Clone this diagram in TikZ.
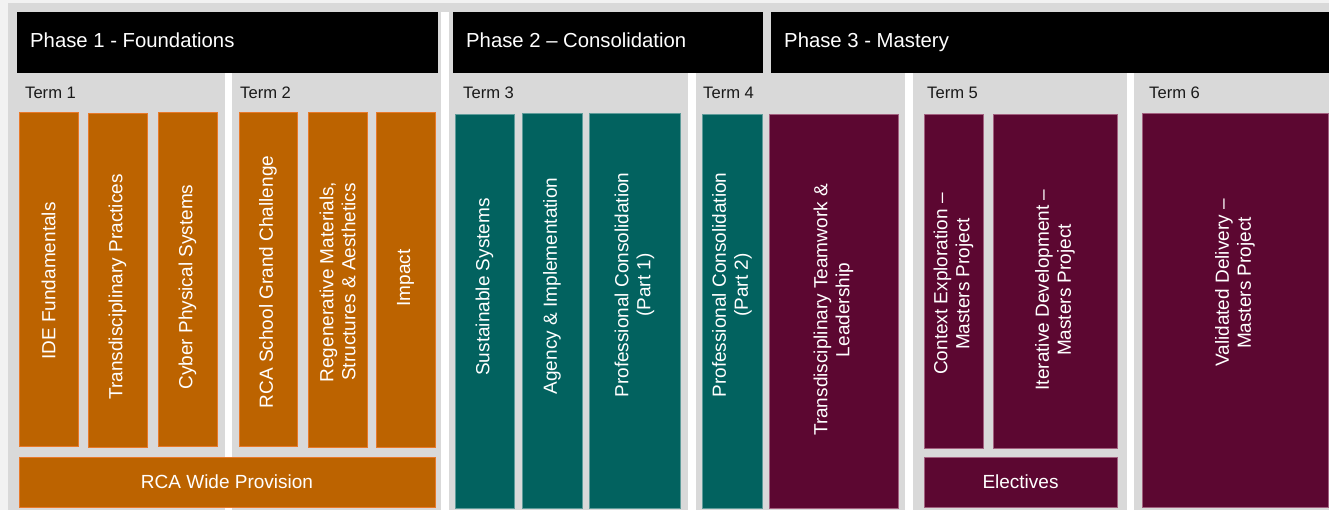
\documentclass[tikz,border=0pt]{standalone}
\usepackage{fontspec}
\setmainfont{Liberation Sans}
\usetikzlibrary{fit}
\definecolor{bggray}{HTML}{D9D9D9}
\definecolor{margin}{HTML}{F2F2F2}
\definecolor{orfill}{HTML}{BC6300}
\definecolor{orline}{HTML}{E8792A}
\definecolor{tlfill}{HTML}{02625F}
\definecolor{tlline}{HTML}{5F9C9A}
\definecolor{mrfill}{HTML}{5C0731}
\definecolor{mrline}{HTML}{A2607F}
\definecolor{termtext}{HTML}{1A1A1A}
\tikzset{
  orbox/.style={fill=orfill, draw=orline, line width=1pt, inner sep=0pt},
  tlbox/.style={fill=tlfill, draw=tlline, line width=0.8pt, inner sep=0pt},
  mrbox/.style={fill=mrfill, draw=mrline, line width=0.8pt, inner sep=0pt},
  phasebox/.style={fill=black, draw=none, inner sep=0pt},
  boxtext/.style={text=white, font=\fontsize{19}{22}\selectfont, align=center, inner sep=0pt},
  phasetext/.style={text=white, font=\fontsize{20.3}{24}\selectfont, anchor=base west, inner sep=0pt},
  termtext/.style={text=termtext, font=\fontsize{16.6}{20}\selectfont, anchor=base west, inner sep=0pt},
}
\newcommand{\cbox}[8]{%
  \node[#2, fit={(#3,#4) (#5,#6)}] (#1) {};
  \node[boxtext, rotate=90] (#1t) at ({(#3+#5)/2},#7) {#8};
}
\begin{document}
\begin{tikzpicture}[x=1pt, y=-1pt]
\useasboundingbox (0,0) rectangle (1329,510);
% background
\fill[margin] (0,0) rectangle (1329,510);
\fill[bggray] (8,3) rectangle (1329,510);
% white separators
\fill[white] (441,12) rectangle (449,510);
\fill[white] (225,73) rectangle (232,510);
\fill[white] (688,73) rectangle (696,510);
\fill[white] (905,73) rectangle (913,510);
\fill[white] (1127,73) rectangle (1134,510);
% phase headers
\node[phasebox, fit={(17,12) (438,73)}] (ph1) {};
\node[phasebox, fit={(453,12) (763,73)}] (ph2) {};
\node[phasebox, fit={(771,12) (1329,73)}] (ph3) {};
\node[phasetext] (ph1t) at (30,48) {Phase 1 - Foundations};
\node[phasetext] (ph2t) at (466,48) {Phase 2 – Consolidation};
\node[phasetext] (ph3t) at (784,48) {Phase 3 - Mastery};
% term labels
\node[termtext] (t1) at (25,99) {Term 1};
\node[termtext] (t2) at (240,99) {Term 2};
\node[termtext] (t3) at (463,99) {Term 3};
\node[termtext] (t4) at (703,99) {Term 4};
\node[termtext] (t5) at (927,99) {Term 5};
\node[termtext] (t6) at (1149,99) {Term 6};
% phase 1 boxes
\cbox{b1}{orbox}{19}{113}{78}{446}{281}{IDE Fundamentals}
\cbox{b2}{orbox}{88}{114}{147}{447}{287}{Transdisciplinary Practices}
\cbox{b3}{orbox}{158}{113}{217}{446}{287}{Cyber Physical Systems}
\cbox{b4}{orbox}{239}{113}{297}{446}{282}{RCA School Grand Challenge}
\cbox{b5}{orbox}{308}{113}{367}{447}{282}{Regenerative Materials,\\Structures \& Aesthetics}
\cbox{b6}{orbox}{376}{113}{435}{447}{278}{Impact}
\node[orbox, fit={(19,457) (435,507)}] (b7) {};
\node[boxtext] (b7t) at (227,482) {RCA Wide Provision};
% phase 2 boxes
\cbox{b8}{tlbox}{455}{114}{514}{508}{287}{Sustainable Systems}
\cbox{b9}{tlbox}{522}{113}{582}{508}{286}{Agency \& Implementation}
\cbox{b10}{tlbox}{589}{113}{680}{508}{285}{Professional Consolidation\\(Part 1)}
\cbox{b11}{tlbox}{702}{114}{762}{508}{285}{Professional Consolidation\\(Part 2)}
% phase 3 boxes
\cbox{b12}{mrbox}{769}{114}{898}{508}{310}{Transdisciplinary Teamwork \&\\Leadership}
\cbox{b13}{mrbox}{924}{114}{983}{448}{284}{Context Exploration –\\Masters Project}
\cbox{b14}{mrbox}{993}{114}{1117}{448}{290}{Iterative Development –\\Masters Project}
\node[mrbox, fit={(924,457) (1117,507)}] (b15) {};
\node[boxtext] (b15t) at (1020.5,482) {Electives};
\cbox{b16}{mrbox}{1142}{113}{1328}{507}{283}{Validated Delivery –\\Masters Project}
\end{tikzpicture}
\end{document}
